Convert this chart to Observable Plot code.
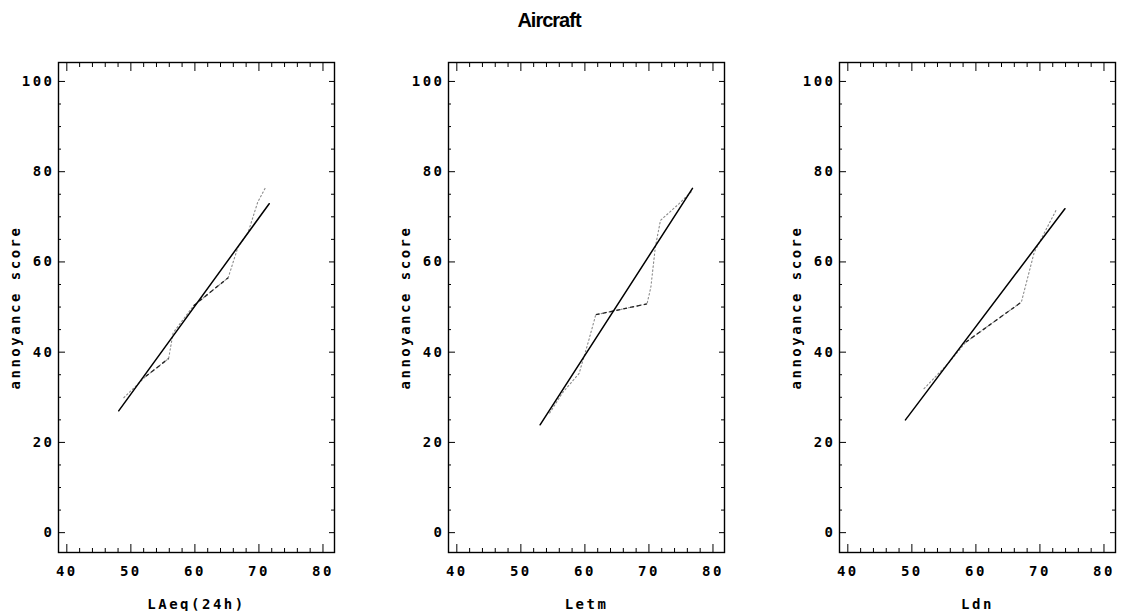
<!DOCTYPE html>
<html>
<head>
<meta charset="utf-8">
<script src="https://cdn.jsdelivr.net/npm/d3@7"></script>
<script src="https://cdn.jsdelivr.net/npm/@observablehq/plot@0.6"></script>
<style>
  html, body { margin: 0; padding: 0; background: #fff; }
  body { width: 1124px; height: 611px; position: relative; overflow: hidden; }
  #title { position: absolute; top: 9px; left: 0; width: 1098px; text-align: center;
           font: bold 20px "Liberation Sans Narrow", "Liberation Sans", sans-serif; letter-spacing: -1px; color: #000; }
  .panel { position: absolute; top: 40px; width: 390px; height: 571px; }
  .panel svg { max-width: none !important; }
</style>
</head>
<body>
<div id="title">Aircraft</div>
<div id="charts"></div>
<script>
// ---- data ----
const metrics = ["LAeq(24h)", "Letm", "Ldn"];
const yLabel = "annoyance score";

const xMajor = [40, 50, 60, 70, 80];
const xMinor = [42, 44, 46, 48, 52, 54, 56, 58, 62, 64, 66, 68, 72, 74, 76, 78];
const yMajor = [0, 20, 40, 60, 80, 100];
const yMinor = [5, 10, 15, 25, 30, 35, 45, 50, 55, 65, 70, 75, 85, 90, 95];

// regression lines (end points)
const fitLAeqX = [48.1, 71.6], fitLAeqY = [27.0, 72.9];
const fitLetmX = [53.0, 76.8], fitLetmY = [23.9, 76.3];
const fitLdnX  = [49.0, 73.9], fitLdnY  = [25.0, 71.8];

// observed dose-response curves
const obsLAeqX = [48.9, 52.3, 55.9, 56.6, 59.8, 65.2, 66.7, 68.3, 69.8, 71.1];
const obsLAeqY = [29.9, 34.6, 38.6, 44.3, 50.3, 56.5, 63.2, 66.5, 73.2, 76.7];
const obsLetmX = [54.5, 56.5, 59.1, 60.6, 61.7, 69.7, 70.3, 71.0, 71.8, 74.7, 76.8];
const obsLetmY = [26.5, 31.0, 35.3, 42.6, 48.3, 50.7, 54.4, 63.3, 69.2, 72.9, 75.8];
const obsLdnX  = [51.9, 55.8, 58.4, 67.1, 69.1, 72.5];
const obsLdnY  = [31.9, 37.7, 42.2, 51.1, 62.1, 71.4];

// segments of the observed curves (start index) that are drawn dashed
const dashLAeq = [1, 4];
const dashLetm = [4];
const dashLdn  = [2];

const fits = [[fitLAeqX, fitLAeqY], [fitLetmX, fitLetmY], [fitLdnX, fitLdnY]];
const obs  = [[obsLAeqX, obsLAeqY], [obsLetmX, obsLetmY], [obsLdnX, obsLdnY]];
const dashes = [dashLAeq, dashLetm, dashLdn];

const blank = () => "";

function panel(i) {
  const [fx, fy] = fits[i];
  const [ox, oy] = obs[i];
  const fit = fx.map((x, j) => ({x, y: fy[j]}));
  const curve = ox.map((x, j) => ({x, y: oy[j]}));
  const seg = dashes[i].map(j => ({x1: ox[j], y1: oy[j], x2: ox[j + 1], y2: oy[j + 1]}));
  return Plot.plot({
    width: 390, height: 571,
    marginLeft: 58, marginRight: 56, marginTop: 22, marginBottom: 59,
    x: {domain: [38.7, 81.8]},
    y: {domain: [-4.4, 104.2]},
    style: {fontFamily: "'DejaVu Sans Mono', monospace", fontWeight: "bold", fontSize: "14px",
            letterSpacing: "2.5px", background: "white", color: "black", overflow: "visible", maxWidth: "none"},
    marks: [
      Plot.axisX({anchor: "bottom", ticks: xMajor, tickSize: -8, tickPadding: 22, tickFormat: d => String(d),
                  label: metrics[i], labelAnchor: "center", labelArrow: "none", labelOffset: 56}),
      Plot.axisX({anchor: "bottom", ticks: xMinor, tickSize: -4, tickFormat: blank, label: null}),
      Plot.axisX({anchor: "top", ticks: xMajor, tickSize: -8, tickFormat: blank, label: null}),
      Plot.axisX({anchor: "top", ticks: xMinor, tickSize: -4, tickFormat: blank, label: null}),
      Plot.axisY({anchor: "left", ticks: yMajor, tickSize: -7, tickPadding: 11, tickFormat: d => String(d),
                  label: yLabel, labelAnchor: "center", labelArrow: "none", labelOffset: 48}),
      Plot.axisY({anchor: "left", ticks: yMinor, tickSize: -3, tickFormat: blank, label: null}),
      Plot.axisY({anchor: "right", ticks: yMajor, tickSize: -6, tickFormat: blank, label: null}),
      Plot.axisY({anchor: "right", ticks: yMinor, tickSize: -4, tickFormat: blank, label: null}),
      Plot.frame({stroke: "black", strokeWidth: 1.4}),
      Plot.line(curve, {x: "x", y: "y", stroke: "#8a8a8a", strokeWidth: 1.1, strokeDasharray: "1.5,2.5"}),
      Plot.link(seg, {x1: "x1", y1: "y1", x2: "x2", y2: "y2", stroke: "#222", strokeWidth: 1.3, strokeDasharray: "4,3"}),
      Plot.line(fit, {x: "x", y: "y", stroke: "black", strokeWidth: 1.5})
    ]
  });
}

const lefts = [0, 390, 781];
const host = document.getElementById("charts");
metrics.forEach((m, i) => {
  const div = document.createElement("div");
  div.className = "panel";
  div.style.left = lefts[i] + "px";
  div.appendChild(panel(i));
  host.appendChild(div);
});
</script>
</body>
</html>
